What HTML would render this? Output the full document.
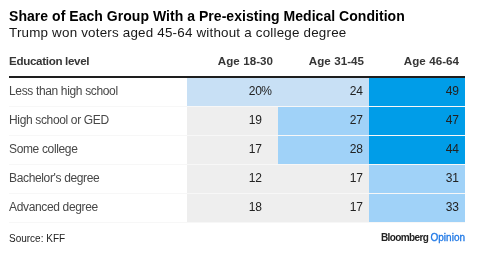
<!DOCTYPE html>
<html><head><meta charset="utf-8">
<style>
html,body{margin:0;padding:0;background:#fff;}
body{width:480px;height:254px;position:relative;overflow:hidden;will-change:transform;font-family:"Liberation Sans",sans-serif;color:#000;}
.t{position:absolute;white-space:nowrap;}
#title{left:9px;top:8px;font-size:14px;font-weight:bold;letter-spacing:0.04px;color:#000;}
#sub{left:9px;top:25px;font-size:13.4px;letter-spacing:0.2px;color:#181818;}
.hdr{top:54px;font-size:11.6px;font-weight:bold;color:#363636;letter-spacing:-0.2px;}
.ag{letter-spacing:0.05px;margin-right:-0.05px;}
#rule{position:absolute;left:9px;top:76px;width:456px;height:2px;background:#1e1e1e;}
.row{position:absolute;left:9px;width:456px;height:28px;}
.sep{position:absolute;left:9px;width:456px;height:1px;background:#f7f7f7;}
.lab{position:absolute;left:0;top:-1px;line-height:28px;font-size:12px;letter-spacing:-0.35px;color:#474747;}
.c{position:absolute;top:0;height:28px;line-height:27px;font-size:12px;color:#222;text-align:right;box-sizing:border-box;padding-right:6px;}
.c1{left:178px;width:91px;padding-right:16px;}
.c2{left:269px;width:91px;}
.c3{left:360px;width:96px;}
.pc{position:absolute;right:6px;top:0;}
.g{background:#eeeeee;}
.l1{background:#c8e0f5;}
.l2{background:#a0d2f8;}
.d{background:#009de8;}
#src{left:9px;top:233px;font-size:10px;color:#222;}
#bb{right:15px;top:232px;font-size:10px;font-weight:bold;color:#222;letter-spacing:-0.6px;}
#bb span{color:#1f78e6;font-weight:normal;letter-spacing:0;-webkit-text-stroke:0.3px #1f78e6;}
</style></head><body>
<div id="title" class="t">Share of Each Group With a Pre-existing Medical Condition</div>
<div id="sub" class="t">Trump won voters aged 45-64 without a college degree</div>
<div class="t hdr" style="left:9px;letter-spacing:-0.32px;">Education level</div>
<div class="t hdr ag" style="right:207px;">Age 18-30</div>
<div class="t hdr ag" style="right:116px;">Age 31-45</div>
<div class="t hdr ag" style="right:21px;">Age 46-64</div>
<div id="rule"></div>

<div class="row" style="top:78px;">
  <div class="lab">Less than high school</div>
  <div class="c c1 l1">20<span class="pc">%</span></div>
  <div class="c c2 l1">24</div>
  <div class="c c3 d">49</div>
</div>
<div class="sep" style="top:106px;"></div>
<div class="row" style="top:107px;">
  <div class="lab">High school or GED</div>
  <div class="c c1 g">19</div>
  <div class="c c2 l2">27</div>
  <div class="c c3 d">47</div>
</div>
<div class="sep" style="top:135px;"></div>
<div class="row" style="top:136px;">
  <div class="lab">Some college</div>
  <div class="c c1 g">17</div>
  <div class="c c2 l2">28</div>
  <div class="c c3 d">44</div>
</div>
<div class="sep" style="top:164px;"></div>
<div class="row" style="top:165px;">
  <div class="lab">Bachelor's degree</div>
  <div class="c c1 g">12</div>
  <div class="c c2 g">17</div>
  <div class="c c3 l2">31</div>
</div>
<div class="sep" style="top:193px;"></div>
<div class="row" style="top:194px;">
  <div class="lab">Advanced degree</div>
  <div class="c c1 g">18</div>
  <div class="c c2 g">17</div>
  <div class="c c3 l2">33</div>
</div>
<div class="sep" style="top:222px;"></div>

<div id="src" class="t">Source: KFF</div>
<div id="bb" class="t">Bloomberg <span>Opinion</span></div>
</body></html>
